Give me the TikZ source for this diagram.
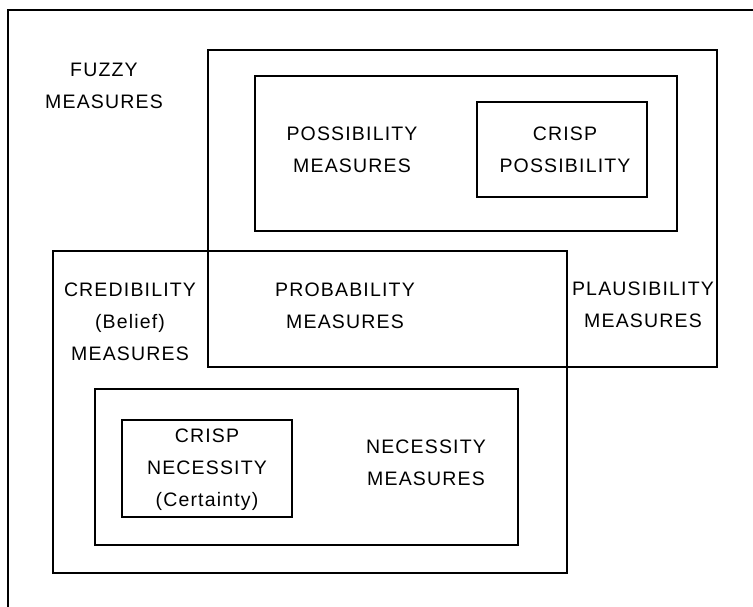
\documentclass[tikz,border=0pt]{standalone}
\usepackage{fontspec}
\setmainfont{Liberation Sans}[LetterSpace=6]
\begin{document}
\begin{tikzpicture}[x=1pt,y=-1pt,
  frame/.style={line width=2.9pt, line cap=rect, line join=miter},
  lbl/.style={align=center, font=\fontsize{19.5}{32}\selectfont, inner sep=0pt}]
\useasboundingbox (0,0) rectangle (753,606);
% outer frame of fuzzy measures (open on the right and bottom)
\draw[frame] (753,10) -- (8,10) -- (8,606);
% plausibility measures
\draw[frame] (208,50) rectangle (717,367);
% possibility measures
\draw[frame] (255,76) rectangle (677,231);
% crisp possibility
\draw[frame] (477,102) rectangle (647,197);
% credibility (belief) measures
\draw[frame] (53,251) rectangle (567,573);
% necessity measures
\draw[frame] (95,389) rectangle (518,545);
% crisp necessity
\draw[frame] (122,420) rectangle (292,517);

\node[lbl] (fuzzy) at (104,86) {FUZZY\\MEASURES};
\node[lbl] (poss) at (352,150) {POSSIBILITY\\MEASURES};
\node[lbl] (cposs) at (565,150) {CRISP\\POSSIBILITY};
\node[lbl] (cred) at (130,322) {CREDIBILITY\\(Belief)\\MEASURES};
\node[lbl] (prob) at (345,306) {PROBABILITY\\MEASURES};
\node[lbl] (plaus) at (643,305) {PLAUSIBILITY\\MEASURES};
\node[lbl] (cnec) at (207,470) {CRISP\\NECESSITY\\(Certainty)};
\node[lbl] (nec) at (426,463) {NECESSITY\\MEASURES};
\end{tikzpicture}
\end{document}
